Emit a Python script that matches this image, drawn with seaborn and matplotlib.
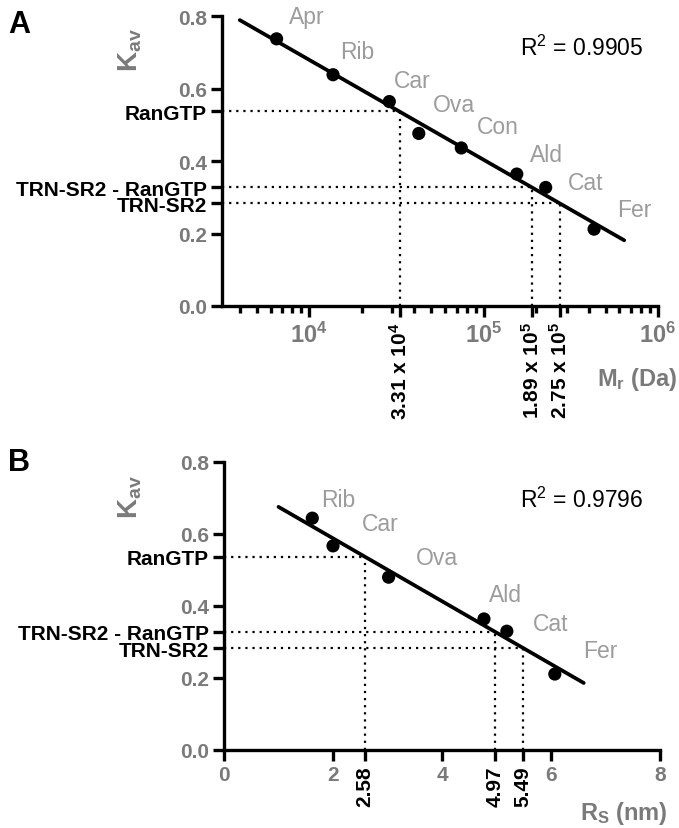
import numpy as np
import pandas as pd
import matplotlib
matplotlib.use("Agg")
import matplotlib.pyplot as plt
import seaborn as sns
from matplotlib.ticker import LogLocator, NullFormatter

# ---------------- data ----------------
proteins_A = ["Apr", "Rib", "Car", "Ova", "Con", "Ald", "Cat", "Fer"]
mr_A = [6500, 13700, 28800, 42500, 74500, 155000, 227000, 430000]
kav_A = [0.737, 0.638, 0.564, 0.476, 0.436, 0.364, 0.327, 0.212]

proteins_B = ["Rib", "Car", "Ova", "Ald", "Cat", "Fer"]
rs_B = [1.62, 2.00, 3.02, 4.77, 5.19, 6.07]
kav_B = [0.644, 0.567, 0.480, 0.364, 0.330, 0.211]

samples = ["RanGTP", "TRN-SR2 - RanGTP", "TRN-SR2"]
sample_kav = [0.537, 0.328, 0.283]
sample_mr = [3.31e4, 1.89e5, 2.75e5]
sample_mr_labels = [r"3.31 x 10$^{\mathbf{4}}$", r"1.89 x 10$^{\mathbf{5}}$", r"2.75 x 10$^{\mathbf{5}}$"]
sample_rs = [2.58, 4.97, 5.49]
sample_rs_labels = ["2.58", "4.97", "5.49"]

r2_A = 0.9905
r2_B = 0.9796
fit_range_A = [4000, 640000]
fit_range_B = [1.0, 6.6]

yticks = [0.0, 0.2, 0.4, 0.6, 0.8]
xticks_A = [1e4, 1e5, 1e6]
xtick_labels_A = [r"$\mathbf{10^{4}}$", r"$\mathbf{10^{5}}$", r"$\mathbf{10^{6}}$"]
xticks_B = [0, 2, 4, 6, 8]

# ---------------- style ----------------
sns.set_theme(style="ticks")
plt.rcParams["font.family"] = ["Liberation Sans", "DejaVu Sans"]
plt.rcParams["mathtext.fontset"] = "custom"
plt.rcParams["mathtext.rm"] = "Liberation Sans"
plt.rcParams["mathtext.it"] = "Liberation Sans"
plt.rcParams["mathtext.bf"] = "Liberation Sans:bold"

GRAY_TICK = "#7a7a7a"
GRAY_LBL = "#9c9c9c"
LW = 2.4
DOT = (0, (1, 2.2))
TICK_FS = 15

# label offsets in pixels (dx to left edge, dy to centre)
offs_A = [(12, 22), (7, 23), (5, 21), (14, 29), (16, 21), (13, 20), (22, 5), (23, 20)]
offs_B = [(9, 19), (29, 22), (27, 20), (5, 24), (26, 8), (28, 24)]

W, H = 679, 829
fig = plt.figure(figsize=(W / 100, H / 100), dpi=100)

def axes_px(l, r, t, b):
    return fig.add_axes([l / W, 1 - b / H, (r - l) / W, (b - t) / H])

axA = axes_px(222, 658, 17, 307)
axB = axes_px(224, 660, 463, 751)


def style_axes(ax):
    sns.despine(ax=ax)
    for s in ["left", "bottom"]:
        ax.spines[s].set_linewidth(LW)
        ax.spines[s].set_color("black")
    ax.tick_params(which="major", direction="out", length=8, width=LW, color="black", pad=3)
    ax.tick_params(which="minor", direction="out", length=5, width=LW, color="black")
    ax.set_xlabel("")
    ax.set_ylabel("")
    ax.set_facecolor("white")


def y_axis(ax):
    ticks = yticks + sample_kav
    labels = [f"{v:.1f}" for v in yticks] + samples
    ax.set_yticks(ticks)
    ax.set_yticklabels(labels)
    for i, lab in enumerate(ax.get_yticklabels()):
        lab.set_fontweight("bold")
        lab.set_fontsize(TICK_FS)
        lab.set_color(GRAY_TICK if i < len(yticks) else "black")
    ax.set_ylim(0, 0.8)


# ---------------- panel A ----------------
dfA = pd.DataFrame({"mr": mr_A, "kav": kav_A, "protein": proteins_A})
coefA = np.polyfit(np.log10(dfA["mr"]), dfA["kav"], 1)
fitA = pd.DataFrame({"mr": fit_range_A})
fitA["kav"] = np.polyval(coefA, np.log10(fitA["mr"]))

axA.set_xscale("log")
axA.set_xlim(10 ** 3.5, 1e6)
sns.lineplot(data=fitA, x="mr", y="kav", ax=axA, color="black", lw=LW + 0.3, zorder=3)
sns.scatterplot(data=dfA, x="mr", y="kav", ax=axA, color="black", s=90,
                edgecolor="none", zorder=4)
for x, y in zip(sample_mr, sample_kav):
    axA.plot([10 ** 3.5, x], [y, y], color="black", lw=1.6, ls=DOT, zorder=2)
    axA.plot([x, x], [0, y], color="black", lw=1.6, ls=DOT, zorder=2)
for (x, y, p), (dx, dy) in zip(zip(mr_A, kav_A, proteins_A), offs_A):
    axA.annotate(p, (x, y), xytext=(dx, dy), textcoords="offset pixels",
                 ha="left", va="center", fontsize=16.5, color=GRAY_LBL)
axA.text(520 / W, 1 - 48 / H, r"R$^2$ = " + f"{r2_A}", transform=fig.transFigure,
         ha="left", va="center", fontsize=16.5, color="black")

style_axes(axA)
y_axis(axA)
axA.set_xticks(xticks_A + sample_mr)
axA.set_xticklabels(xtick_labels_A + sample_mr_labels)
axA.xaxis.set_minor_locator(LogLocator(base=10, subs=np.arange(2, 10)))
axA.xaxis.set_minor_formatter(NullFormatter())
for i, lab in enumerate(axA.get_xticklabels()):
    lab.set_fontweight("bold")
    if i < len(xticks_A):
        lab.set_color(GRAY_TICK)
        lab.set_fontsize(17)
    else:
        lab.set_fontsize(TICK_FS)
        lab.set_color("black")
        lab.set_rotation(90)

# ---------------- panel B ----------------
dfB = pd.DataFrame({"rs": rs_B, "kav": kav_B, "protein": proteins_B})
coefB = np.polyfit(dfB["rs"], dfB["kav"], 1)
fitB = pd.DataFrame({"rs": fit_range_B})
fitB["kav"] = np.polyval(coefB, fitB["rs"])

axB.set_xlim(0, 8)
sns.lineplot(data=fitB, x="rs", y="kav", ax=axB, color="black", lw=LW + 0.3, zorder=3)
sns.scatterplot(data=dfB, x="rs", y="kav", ax=axB, color="black", s=90,
                edgecolor="none", zorder=4)
for x, y in zip(sample_rs, sample_kav):
    axB.plot([0, x], [y, y], color="black", lw=1.6, ls=DOT, zorder=2)
    axB.plot([x, x], [0, y], color="black", lw=1.6, ls=DOT, zorder=2)
for (x, y, p), (dx, dy) in zip(zip(rs_B, kav_B, proteins_B), offs_B):
    axB.annotate(p, (x, y), xytext=(dx, dy), textcoords="offset pixels",
                 ha="left", va="center", fontsize=16.5, color=GRAY_LBL)
axB.text(520 / W, 1 - 500 / H, r"R$^2$ = " + f"{r2_B}", transform=fig.transFigure,
         ha="left", va="center", fontsize=16.5, color="black")

style_axes(axB)
y_axis(axB)
axB.set_xticks(xticks_B + sample_rs)
axB.set_xticklabels([str(v) for v in xticks_B] + sample_rs_labels)
for i, lab in enumerate(axB.get_xticklabels()):
    lab.set_fontweight("bold")
    lab.set_fontsize(TICK_FS)
    if i < len(xticks_B):
        lab.set_color(GRAY_TICK)
    else:
        lab.set_color("black")
        lab.set_rotation(90)
axB.set_xlim(0, 8)

# ---------------- axis titles & panel letters ----------------
for yc in (50, 497):
    fig.text(130 / W, 1 - yc / H, r"$\mathbf{K_{av}}$", rotation=90, ha="center",
             va="center", fontsize=20, color=GRAY_TICK)
fig.text(677 / W, 1 - 380 / H, r"$\mathbf{M_r}$ (Da)", ha="right", va="center",
         fontsize=17, fontweight="bold", color=GRAY_TICK)
fig.text(668 / W, 1 - 814 / H, r"$\mathbf{R_S}$ (nm)", ha="right", va="center",
         fontsize=17, fontweight="bold", color=GRAY_TICK)
fig.text(8 / W, 1 - 25 / H, "A", ha="left", va="center", fontsize=22,
         fontweight="bold", color="black")
fig.text(8 / W, 1 - 463 / H, "B", ha="left", va="center", fontsize=22,
         fontweight="bold", color="black")

fig.savefig("out.png", dpi=100, facecolor="white")
